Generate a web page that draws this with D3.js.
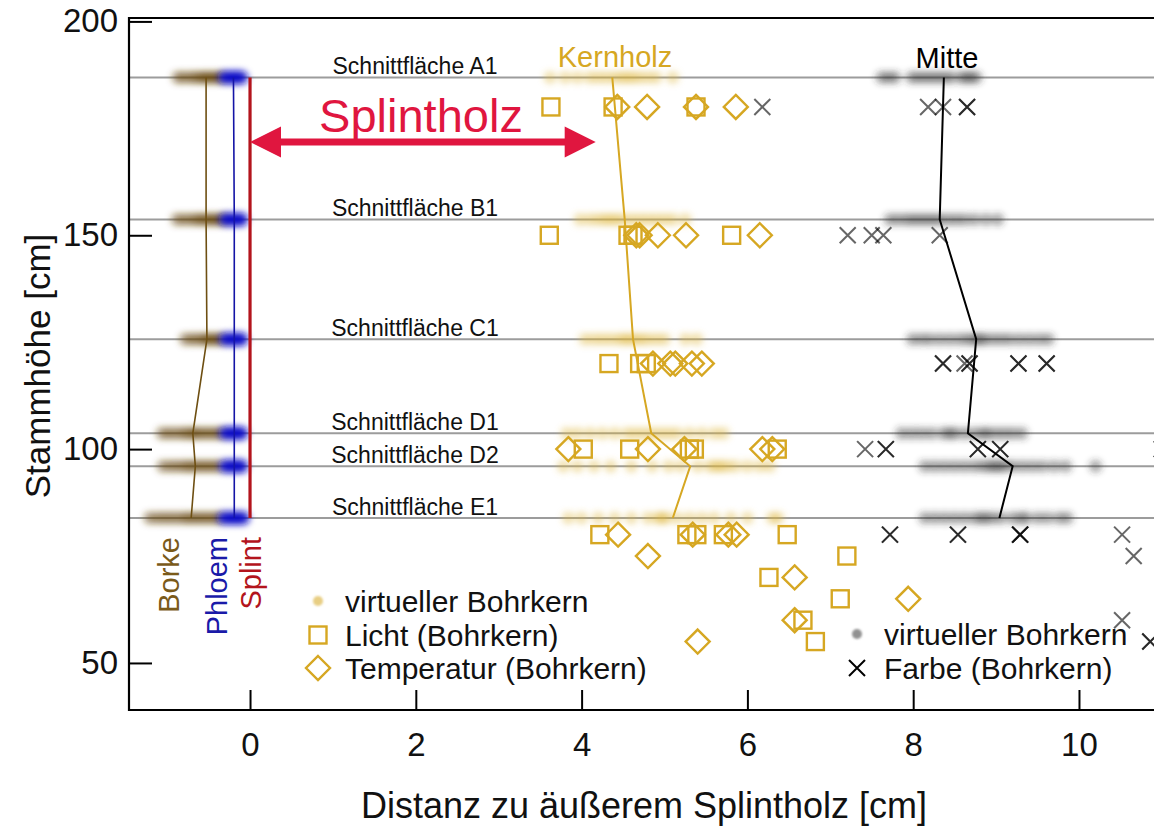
<!DOCTYPE html>
<html>
<head>
<meta charset="utf-8">
<script src="https://cdn.jsdelivr.net/npm/d3@7/dist/d3.min.js"></script>
<style>
  html, body { margin: 0; padding: 0; background: #fff; }
  svg { display: block; font-family: "Liberation Sans", Arial, Helvetica, sans-serif; }
</style>
</head>
<body>
<svg id="chart" width="1154" height="828"></svg>
<script>
// ---- Data -------------------------------------------------------------
// cutting planes (stem height, cm)
const sections = ["A1", "B1", "C1", "D1", "D2", "E1"];
const sectionHeights = [186.9, 153.7, 125.7, 103.7, 96.0, 83.9];

// mean boundary positions per plane (cm from outer sapwood)
const borkeMean   = [-0.53, -0.53, -0.52, -0.69, -0.66, -0.71];
const phloemMean  = [-0.20, -0.19, -0.19, -0.19, -0.19, -0.19];
const kernMean    = [4.37, 4.52, 4.62, 4.84, 5.31, 5.10];
const mitteMean   = [8.37, 8.32, 8.76, 8.66, 9.20, 9.04];

// virtual cores (one list per plane)
const borkeVirtual = [
  [-0.87, -0.80, -0.72, -0.66, -0.60, -0.56, -0.52, -0.48, -0.44, -0.40, -0.36],
  [-0.88, -0.80, -0.72, -0.65, -0.60, -0.55, -0.50, -0.46, -0.42, -0.38, -0.33],
  [-0.78, -0.70, -0.63, -0.56, -0.52, -0.48, -0.44, -0.40, -0.36],
  [-1.06, -0.98, -0.90, -0.82, -0.76, -0.70, -0.66, -0.60, -0.54, -0.48, -0.42, -0.36],
  [-1.05, -0.96, -0.88, -0.80, -0.74, -0.68, -0.62, -0.56, -0.50, -0.44, -0.38],
  [-1.21, -1.12, -1.04, -0.96, -0.88, -0.80, -0.74, -0.68, -0.62, -0.56, -0.50, -0.44, -0.38]
];
const phloemVirtual = [
  [-0.31, -0.27, -0.23, -0.20, -0.17, -0.14, -0.10],
  [-0.30, -0.26, -0.22, -0.19, -0.16, -0.13, -0.10],
  [-0.30, -0.26, -0.22, -0.19, -0.16, -0.13, -0.10],
  [-0.30, -0.26, -0.22, -0.19, -0.16, -0.13, -0.10],
  [-0.30, -0.26, -0.22, -0.19, -0.16, -0.13, -0.10],
  [-0.32, -0.27, -0.23, -0.19, -0.16, -0.12, -0.08]
];
const kernVirtual = [
  [3.62, 3.80, 3.95, 4.10, 4.20, 4.30, 4.40, 4.48, 4.55, 4.62, 4.70, 4.80, 4.90, 5.10],
  [3.98, 4.10, 4.20, 4.28, 4.35, 4.42, 4.50, 4.60, 4.70, 4.80, 4.90, 5.00, 5.10, 5.25],
  [4.04, 4.15, 4.25, 4.35, 4.45, 4.52, 4.58, 4.65, 4.72, 4.80, 4.90, 5.00, 5.25, 5.39],
  [3.82, 3.95, 4.10, 4.25, 4.40, 4.55, 4.65, 4.75, 4.85, 4.95, 5.05, 5.15, 5.30, 5.45, 5.60, 5.71],
  [3.78, 3.95, 4.15, 4.35, 4.60, 4.85, 5.05, 5.20, 5.40, 5.55, 5.62, 5.68, 5.75, 5.85, 6.00, 6.15, 6.27],
  [3.84, 4.00, 4.20, 4.40, 4.60, 4.80, 4.92, 4.97, 5.02, 5.15, 5.30, 5.45, 5.60, 5.80, 6.00, 6.30, 6.37]
];
const mitteVirtual = [
  [7.62, 7.70, 7.78, 7.98, 8.06, 8.14, 8.22, 8.30, 8.38, 8.46, 8.58, 8.64, 8.70, 8.76],
  [7.72, 7.82, 7.92, 8.00, 8.08, 8.16, 8.24, 8.32, 8.42, 8.52, 8.62, 8.74, 8.88, 9.02],
  [7.99, 8.10, 8.20, 8.32, 8.44, 8.56, 8.66, 8.74, 8.80, 8.86, 8.96, 9.06, 9.16, 9.28, 9.40, 9.52, 9.63],
  [7.86, 7.98, 8.10, 8.22, 8.36, 8.44, 8.50, 8.62, 8.74, 8.84, 8.90, 9.00, 9.10, 9.20, 9.31],
  [8.14, 8.26, 8.38, 8.50, 8.62, 8.74, 8.84, 8.92, 8.98, 9.04, 9.10, 9.20, 9.32, 9.44, 9.56, 9.70, 9.84, 10.20],
  [8.14, 8.26, 8.38, 8.50, 8.62, 8.74, 8.82, 8.88, 8.96, 9.06, 9.20, 9.30, 9.36, 9.50, 9.62, 9.76, 9.86]
];

// increment cores: [stem height, distance]
const lichtCores = [
  [180, 3.63], [180, 4.38], [180, 5.38],
  [150, 3.61], [150, 4.56], [150, 4.62], [150, 5.81],
  [120, 4.33], [120, 4.70], [120, 4.78],
  [100, 4.02], [100, 4.58], [100, 5.30], [100, 5.36], [100, 6.36],
  [80, 4.22], [80, 5.27], [80, 5.39], [80, 5.71], [80, 6.48],
  [75, 7.20], [70, 6.26], [65, 7.12], [60, 6.67], [55, 6.82]
];
const temperaturCores = [
  [180, 4.43], [180, 4.79], [180, 5.38], [180, 5.86],
  [150, 4.66], [150, 4.70], [150, 4.92], [150, 5.26], [150, 6.15],
  [120, 4.86], [120, 5.07], [120, 5.13], [120, 5.33], [120, 5.45],
  [100, 3.84], [100, 4.80], [100, 5.24], [100, 6.18], [100, 6.30],
  [80, 4.44], [80, 5.34], [80, 5.77], [80, 5.87],
  [75, 4.80], [70, 6.57], [65, 7.94], [60, 6.57], [55, 5.40]
];
const farbeCores = [
  [180, 6.18], [180, 8.18], [180, 8.36], [180, 8.65], [180, 8.65],
  [150, 7.21], [150, 7.50], [150, 7.64], [150, 8.32],
  [120, 8.36], [120, 8.36], [120, 8.62], [120, 8.68], [120, 8.68], [120, 9.27], [120, 9.27], [120, 9.61], [120, 9.61],
  [100, 7.42], [100, 7.67], [100, 7.67], [100, 8.78], [100, 8.78], [100, 9.05], [100, 9.05], [100, 11.0], [100, 11.0],
  [80, 7.72], [80, 7.72], [80, 8.54], [80, 8.54], [80, 9.29], [80, 9.29], [80, 9.29], [80, 10.52],
  [75, 10.66], [65, 11.05], [60, 10.52], [55, 10.86], [55, 10.86]
];

const xTicks = [0, 2, 4, 6, 8, 10];
const yTicks = [50, 100, 150, 200];

// ---- Styling ----------------------------------------------------------
const GOLD = "#d6a722";
const BROWN = "#6e4f12";
const BLUE = "#1414a6";
const RED = "#b3141c";
const CRIMSON = "#e0163f";

const svg = d3.select("#chart");
const x = d3.scaleLinear().domain([-1.46, 10.905]).range([129, 1154]);
const y = d3.scaleLinear().domain([39.0, 200.8]).range([710, 18]);

const defs = svg.append("defs");
defs.append("filter").attr("id", "soft")
  .attr("x", "-20%").attr("y", "-200%").attr("width", "140%").attr("height", "500%")
  .append("feGaussianBlur").attr("stdDeviation", 3);
defs.append("filter").attr("id", "softDot")
  .attr("x", "-100%").attr("y", "-100%").attr("width", "300%").attr("height", "300%")
  .append("feGaussianBlur").attr("stdDeviation", 1.2);

// cutting-plane reference lines
svg.append("g").selectAll("line").data(sectionHeights).join("line")
  .attr("x1", x.range()[0]).attr("x2", x.range()[1])
  .attr("y1", d => y(d)).attr("y2", d => y(d))
  .attr("stroke", "#9c9c9c").attr("stroke-width", 2);

// plane labels
svg.append("g").selectAll("text").data(sections).join("text")
  .attr("x", 415)
  .attr("y", (d, i) => y(sectionHeights[i]) - 3)
  .attr("text-anchor", "middle")
  .attr("font-size", 23)
  .attr("fill", "#111")
  .text(d => "Schnittfläche " + d);

// blurred virtual-core points
function virtualLayer(values, color, opacity, r) {
  const g = svg.append("g").attr("filter", "url(#soft)");
  values.forEach((row, i) => {
    g.append("g").selectAll("circle").data(row).join("circle")
      .attr("cx", d => x(d)).attr("cy", y(sectionHeights[i]))
      .attr("r", r).attr("fill", color).attr("fill-opacity", opacity);
  });
}
virtualLayer(borkeVirtual, "rgb(105,74,16)", 0.5, 6.5);
virtualLayer(phloemVirtual, "rgb(16,16,200)", 0.7, 7);
virtualLayer(kernVirtual, "rgb(222,182,60)", 0.4, 6.5);
virtualLayer(mitteVirtual, "rgb(50,50,50)", 0.4, 6.5);

// mean boundary lines
const pts = arr => arr.map((v, i) => [x(v), y(sectionHeights[i])]);
const line = d3.line();
svg.append("path").attr("d", line(pts(borkeMean))).attr("fill", "none").attr("stroke", BROWN).attr("stroke-width", 1.6);
svg.append("path").attr("d", line(pts(phloemMean))).attr("fill", "none").attr("stroke", BLUE).attr("stroke-width", 1.6);
svg.append("path").attr("d", line(pts(kernMean))).attr("fill", "none").attr("stroke", GOLD).attr("stroke-width", 2);
svg.append("path").attr("d", line(pts(mitteMean))).attr("fill", "none").attr("stroke", "#000").attr("stroke-width", 2);

// sapwood boundary
svg.append("line")
  .attr("x1", x(0)).attr("x2", x(0))
  .attr("y1", y(sectionHeights[0])).attr("y2", y(sectionHeights[sectionHeights.length - 1]))
  .attr("stroke", RED).attr("stroke-width", 3.2);

// increment-core markers
const sq = 17, dia = 12, xs = 8;
svg.append("g").selectAll("rect").data(lichtCores).join("rect")
  .attr("x", d => x(d[1]) - sq / 2).attr("y", d => y(d[0]) - sq / 2)
  .attr("width", sq).attr("height", sq)
  .attr("fill", "none").attr("stroke", GOLD).attr("stroke-width", 2.4);
const diamondPath = (cx, cy) => `M${cx},${cy - dia}L${cx + dia},${cy}L${cx},${cy + dia}L${cx - dia},${cy}Z`;
svg.append("g").selectAll("path").data(temperaturCores).join("path")
  .attr("d", d => diamondPath(x(d[1]), y(d[0])))
  .attr("fill", "none").attr("stroke", GOLD).attr("stroke-width", 2.4);
const crossPath = (cx, cy) => `M${cx - xs},${cy - xs}L${cx + xs},${cy + xs}M${cx - xs},${cy + xs}L${cx + xs},${cy - xs}`;
svg.append("g").selectAll("path").data(farbeCores).join("path")
  .attr("d", d => crossPath(x(d[1]), y(d[0])))
  .attr("fill", "none").attr("stroke", "#000").attr("stroke-opacity", 0.6).attr("stroke-width", 2);

// Splintholz arrow
const arrowY = 142, head = 31, half = 15.5;
const ax0 = x(0), ax1 = x(4.17);
const ag = svg.append("g").attr("fill", CRIMSON);
ag.append("rect").attr("x", ax0 + head - 2).attr("y", arrowY - 3.5).attr("width", ax1 - ax0 - 2 * head + 4).attr("height", 7);
ag.append("path").attr("d", `M${ax0},${arrowY}L${ax0 + head},${arrowY - half}L${ax0 + head},${arrowY + half}Z`);
ag.append("path").attr("d", `M${ax1},${arrowY}L${ax1 - head},${arrowY - half}L${ax1 - head},${arrowY + half}Z`);
svg.append("text").attr("x", 421).attr("y", 132).attr("text-anchor", "middle")
  .attr("font-size", 47).attr("fill", CRIMSON).text("Splintholz");

// region labels
svg.append("text").attr("x", 615).attr("y", 67).attr("text-anchor", "middle")
  .attr("font-size", 29).attr("fill", GOLD).text("Kernholz");
svg.append("text").attr("x", 947).attr("y", 68).attr("text-anchor", "middle")
  .attr("font-size", 29).attr("fill", "#000").text("Mitte");

const vlab = (cx, txt, color) => svg.append("text")
  .attr("transform", `translate(${cx},537) rotate(-90)`)
  .attr("text-anchor", "end").attr("dy", "0.36em")
  .attr("font-size", 29).attr("fill", color).text(txt);
vlab(169, "Borke", "#7a5a1a");
vlab(217, "Phloem", "#1a1aa8");
vlab(251, "Splint", RED);

// legends
const lg1 = svg.append("g").attr("font-size", 30).attr("fill", "#111");
lg1.append("circle").attr("cx", 318).attr("cy", 601).attr("r", 5).attr("fill", "rgb(222,185,80)").attr("fill-opacity", 0.7).attr("filter", "url(#softDot)");
lg1.append("rect").attr("x", 318 - sq / 2).attr("y", 635 - sq / 2).attr("width", sq).attr("height", sq)
  .attr("fill", "none").attr("stroke", GOLD).attr("stroke-width", 2.4);
lg1.append("path").attr("d", diamondPath(318, 668)).attr("fill", "none").attr("stroke", GOLD).attr("stroke-width", 2.4);
lg1.append("text").attr("x", 345).attr("y", 612).text("virtueller Bohrkern");
lg1.append("text").attr("x", 345).attr("y", 646).text("Licht (Bohrkern)");
lg1.append("text").attr("x", 345).attr("y", 679).text("Temperatur (Bohrkern)");

const lg2 = svg.append("g").attr("font-size", 30).attr("fill", "#111");
lg2.append("circle").attr("cx", 857).attr("cy", 634).attr("r", 5).attr("fill", "#777").attr("fill-opacity", 0.8).attr("filter", "url(#softDot)");
lg2.append("path").attr("d", crossPath(857, 668)).attr("fill", "none").attr("stroke", "#000").attr("stroke-width", 2);
lg2.append("text").attr("x", 884).attr("y", 645).text("virtueller Bohrkern");
lg2.append("text").attr("x", 884).attr("y", 679).text("Farbe (Bohrkern)");

// axes
const xAxis = d3.axisBottom(x).tickValues(xTicks).tickSize(-20).tickPadding(23).tickFormat(d3.format("d"));
const gx = svg.append("g").attr("transform", "translate(0,710)").call(xAxis);
gx.select(".domain").remove();
gx.selectAll(".tick line").attr("stroke", "#000").attr("stroke-width", 2);
gx.selectAll(".tick text").attr("font-size", 33).attr("fill", "#111").attr("font-family", null);

const yAxis = d3.axisLeft(y).tickValues(yTicks).tickSize(-23).tickPadding(11).tickFormat(d3.format("d"));
const gy = svg.append("g").attr("transform", "translate(129,0)").call(yAxis);
gy.select(".domain").remove();
gy.selectAll(".tick line").attr("stroke", "#000").attr("stroke-width", 2);
gy.selectAll(".tick text").attr("font-size", 33).attr("fill", "#111").attr("font-family", null);

// frame
svg.append("path")
  .attr("d", `M${x.range()[1]},${y.range()[1]}H${x.range()[0]}V${y.range()[0]}H${x.range()[1]}`)
  .attr("fill", "none").attr("stroke", "#000").attr("stroke-width", 2.2);

// axis titles
svg.append("text").attr("x", 644).attr("y", 818).attr("text-anchor", "middle")
  .attr("font-size", 36).attr("fill", "#111").text("Distanz zu äußerem Splintholz [cm]");
svg.append("text").attr("transform", "translate(37,366) rotate(-90)")
  .attr("text-anchor", "middle").attr("dy", "0.36em")
  .attr("font-size", 35).attr("fill", "#111").text("Stammhöhe [cm]");
</script>
</body>
</html>
